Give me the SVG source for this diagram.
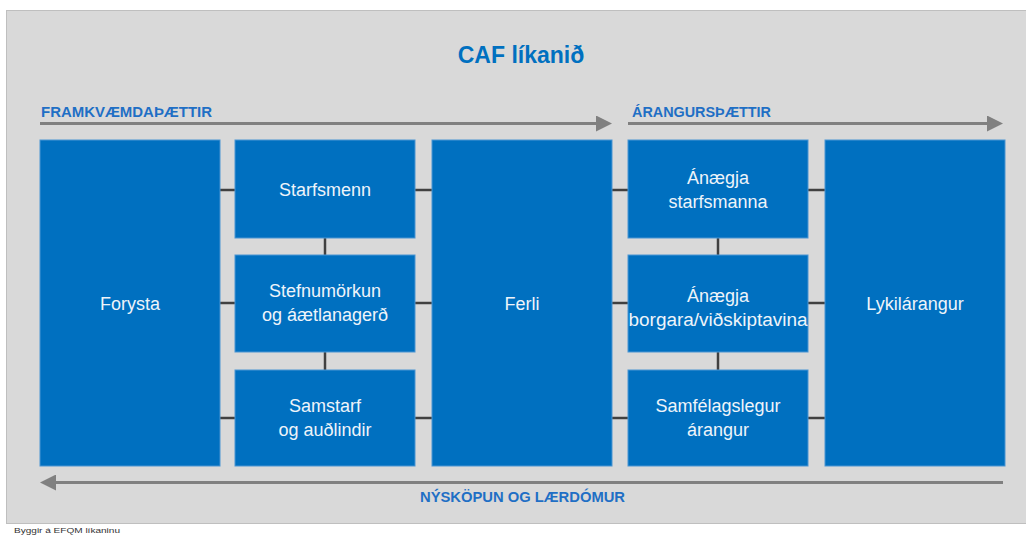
<svg xmlns="http://www.w3.org/2000/svg" width="1026" height="535" viewBox="0 0 1026 535">
<style>
.box{fill:#0070c0;stroke:#4a95d3;stroke-width:1}
.nt{font-family:"Liberation Sans",Arial,sans-serif;font-size:18px;fill:#eef4fa;text-anchor:middle}
.lbl{font-family:"Liberation Sans",Arial,sans-serif;font-size:14px;font-weight:bold;fill:#1f6fc5}
.con line{stroke:#404040;stroke-width:2.5}
.arr{stroke:#808080;stroke-width:3;fill:none}
</style>
<defs>
<marker id="ah" markerWidth="16" markerHeight="16" refX="4" refY="8" orient="auto" markerUnits="userSpaceOnUse">
<path d="M0,0 L16,8 L0,16 Z" fill="#808080"/>
</marker>
</defs>
<rect width="1026" height="535" fill="#ffffff"/>
<rect x="6.5" y="10.5" width="1030" height="513" fill="#d9d9d9" stroke="#bfbfbf" stroke-width="1"/>
<text x="521" y="63" font-family="Liberation Sans,Arial,sans-serif" font-size="23" font-weight="bold" fill="#0070c0" text-anchor="middle">CAF líkanið</text>
<g id="arrows">
<line class="arr" x1="40" y1="123.5" x2="600" y2="123.5" marker-end="url(#ah)"/>
<line class="arr" x1="628" y1="123.5" x2="991" y2="123.5" marker-end="url(#ah)"/>
<line class="arr" x1="1003" y1="482.5" x2="52" y2="482.5" marker-end="url(#ah)"/>
</g>
<text class="lbl" x="41" y="117" textLength="171" lengthAdjust="spacingAndGlyphs">FRAMKVÆMDAÞÆTTIR</text>
<text class="lbl" x="632" y="117" textLength="139" lengthAdjust="spacingAndGlyphs">ÁRANGURSÞÆTTIR</text>
<text class="lbl" x="420" y="502" textLength="205" lengthAdjust="spacingAndGlyphs">NÝSKÖPUN OG LÆRDÓMUR</text>
<g class="con" id="connectors">
<line x1="220" y1="190" x2="235" y2="190"/>
<line x1="220" y1="303" x2="235" y2="303"/>
<line x1="220" y1="418" x2="235" y2="418"/>
<line x1="415" y1="190" x2="432" y2="190"/>
<line x1="415" y1="303" x2="432" y2="303"/>
<line x1="415" y1="418" x2="432" y2="418"/>
<line x1="612" y1="190" x2="628" y2="190"/>
<line x1="612" y1="303" x2="628" y2="303"/>
<line x1="612" y1="418" x2="628" y2="418"/>
<line x1="808" y1="190" x2="825" y2="190"/>
<line x1="808" y1="303" x2="825" y2="303"/>
<line x1="808" y1="418" x2="825" y2="418"/>
<line x1="325" y1="238" x2="325" y2="255"/>
<line x1="325" y1="352" x2="325" y2="370"/>
<line x1="718" y1="238" x2="718" y2="255"/>
<line x1="718" y1="352" x2="718" y2="370"/>
</g>
<g id="forysta"><rect class="box" x="40" y="140" width="180" height="326"/><text class="nt" x="130" y="310">Forysta</text></g>
<g id="starfsmenn"><rect class="box" x="235" y="140" width="180" height="98"/><text class="nt" x="325" y="196">Starfsmenn</text></g>
<g id="stefnumorkun"><rect class="box" x="235" y="255" width="180" height="97"/><text class="nt" x="325" y="297">Stefnumörkun</text><text class="nt" x="325" y="321">og áætlanagerð</text></g>
<g id="samstarf"><rect class="box" x="235" y="370" width="180" height="96"/><text class="nt" x="325" y="412">Samstarf</text><text class="nt" x="325" y="436">og auðlindir</text></g>
<g id="ferli"><rect class="box" x="432" y="140" width="180" height="326"/><text class="nt" x="522" y="310">Ferli</text></g>
<g id="anaegja-starfsmanna"><rect class="box" x="628" y="140" width="180" height="98"/><text class="nt" x="718" y="184">Ánægja</text><text class="nt" x="718" y="208">starfsmanna</text></g>
<g id="anaegja-borgara"><rect class="box" x="628" y="255" width="180" height="97"/><text class="nt" x="718" y="302">Ánægja</text><text class="nt" x="718" y="326" textLength="179" lengthAdjust="spacingAndGlyphs">borgara/viðskiptavina</text></g>
<g id="samfelagslegur"><rect class="box" x="628" y="370" width="180" height="96"/><text class="nt" x="718" y="412">Samfélagslegur</text><text class="nt" x="718" y="436">árangur</text></g>
<g id="lykilarangur"><rect class="box" x="825" y="140" width="180" height="326"/><text class="nt" x="915" y="310">Lykilárangur</text></g>
<text x="14" y="533" font-family="Liberation Sans,Arial,sans-serif" font-size="8" fill="#333333" textLength="106" lengthAdjust="spacingAndGlyphs">Byggir á EFQM líkaninu</text>
</svg>
